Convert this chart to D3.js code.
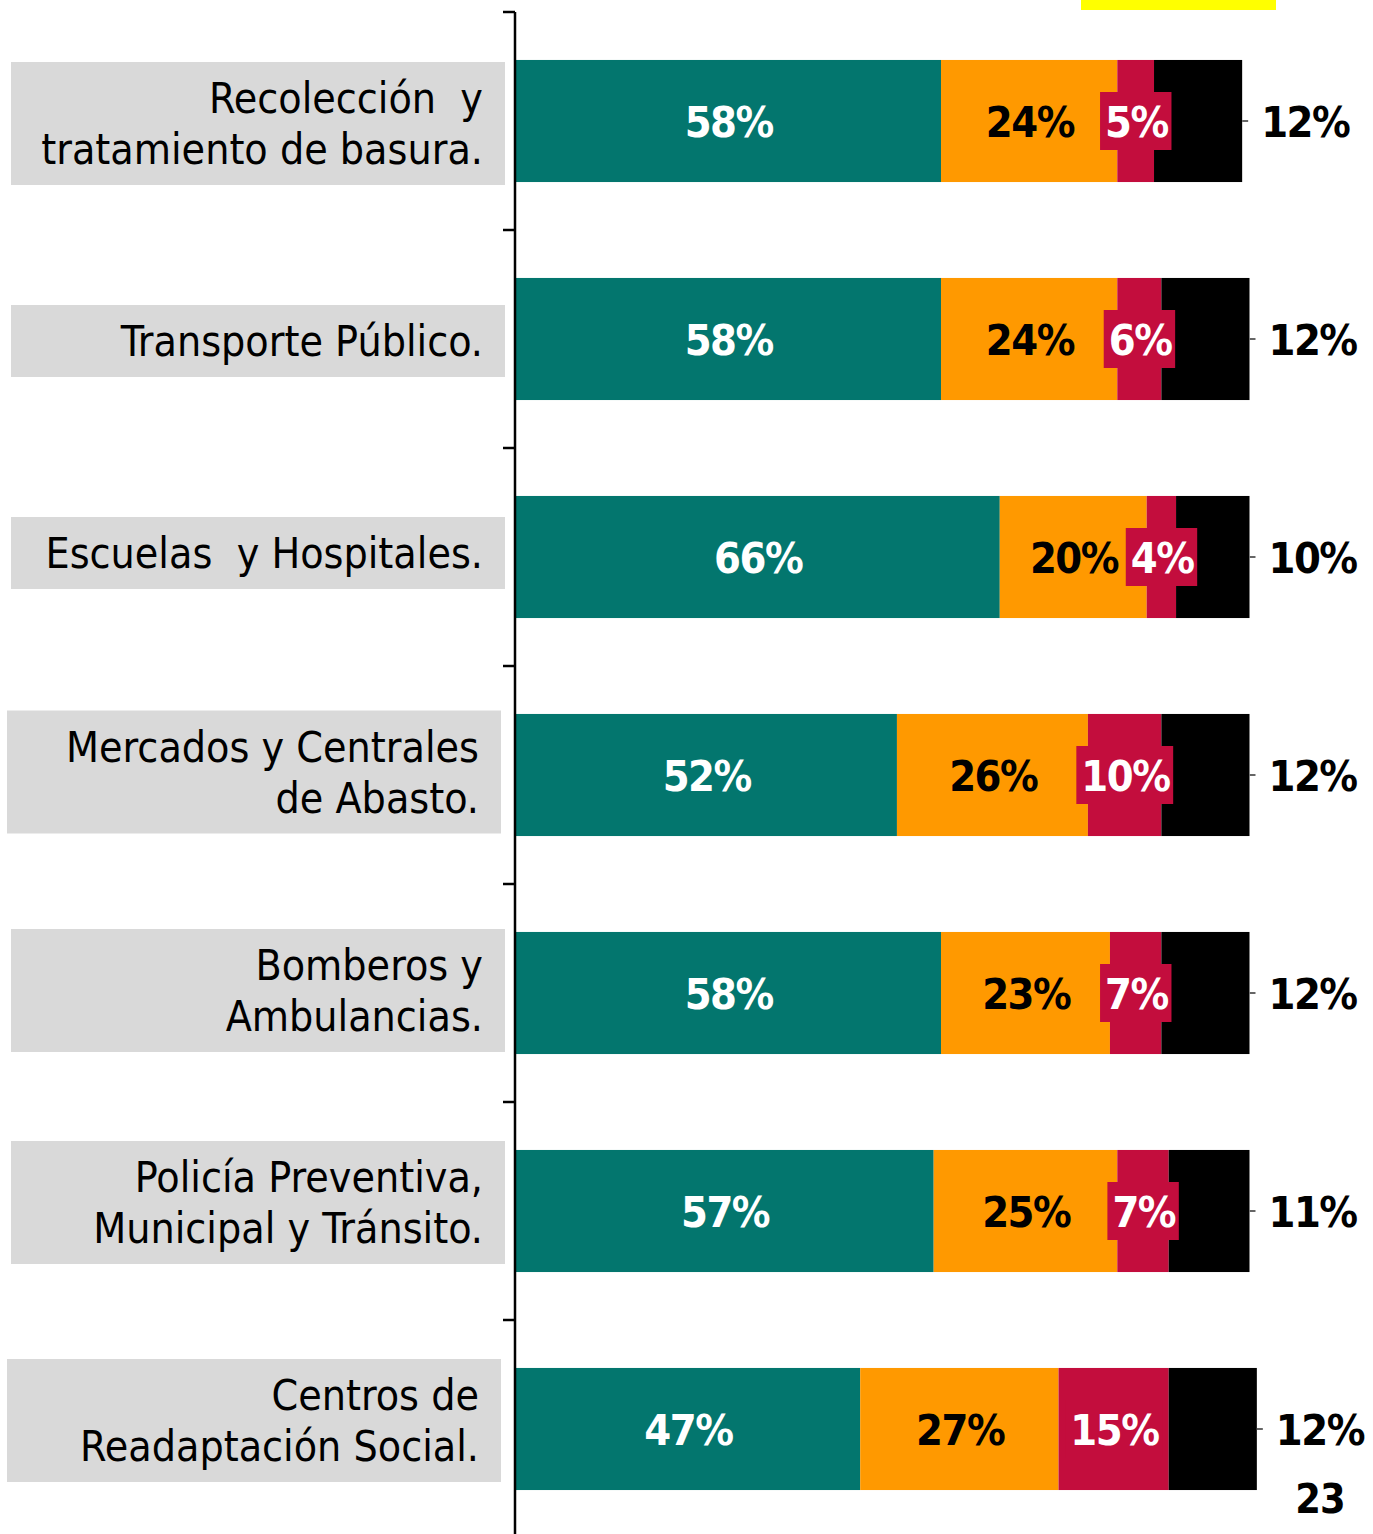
<!DOCTYPE html>
<html><head><meta charset="utf-8">
<script src="https://cdn.jsdelivr.net/npm/d3@7"></script>
<style>
html,body{margin:0;padding:0;background:#fff;}
svg{display:block;}
</style></head>
<body>
<svg id="chart" width="1373" height="1534"></svg>
<script>
const categories = [
  ["Recolección  y", "tratamiento de basura."],
  ["Transporte Público."],
  ["Escuelas  y Hospitales."],
  ["Mercados y Centrales", "de Abasto."],
  ["Bomberos y", "Ambulancias."],
  ["Policía Preventiva,", "Municipal y Tránsito."],
  ["Centros de", "Readaptación Social."]
];
const seriesNames = ["s1", "s2", "s3", "s4"];
const s1 = [58, 58, 66, 52, 58, 57, 47];
const s2 = [24, 24, 20, 26, 23, 25, 27];
const s3 = [5, 6, 4, 10, 7, 7, 15];
const s4 = [12, 12, 10, 12, 12, 11, 12];
const pageNumber = "23";

// layout nudges of the grey label boxes (dx, dy), as in the original slide
const boxNudge = [[0, 2.5], [0, 2], [0, -4], [-4, -3], [0, -2.5], [0, -8.5], [-4, -8.5]];

const colors = ["#03766E", "#FF9900", "#C30D3D", "#000000"];
const labelColors = ["#ffffff", "#000000", "#ffffff", "#000000"];
const fontLabel = "'DejaVu Sans Condensed', 'DejaVu Sans', sans-serif";

const svg = d3.select("#chart");
const keys = categories.map((c, i) => i);
const rows = keys.map(i => ({ i, s1: s1[i], s2: s2[i], s3: s3[i], s4: s4[i] }));

const axisX = 515;
const y = d3.scaleBand().domain(keys).range([12, 12 + 218 * 7]).paddingInner(0.44).paddingOuter(0.22);
const x = d3.scaleLinear().domain([0, 100]).range([axisX, axisX + 734.5]);

const stacked = d3.stack().keys(seriesNames)(rows);

// yellow marker on top
svg.append("rect").attr("x", 1081).attr("y", 0).attr("width", 195).attr("height", 10).attr("fill", "#FFFF00");

// category label boxes
const lab = svg.append("g");
keys.forEach(i => {
  const lines = categories[i];
  const [dx, dy] = boxNudge[i];
  const cy = y(i) + y.bandwidth() / 2 + dy;
  const h = lines.length === 2 ? 123 : 72;
  const g = lab.append("g").attr("transform", `translate(${dx},0)`);
  g.append("rect").attr("x", 11).attr("y", cy - h / 2).attr("width", 494).attr("height", h).attr("fill", "#D9D9D9");
  const lh = 51;
  lines.forEach((t, k) => {
    g.append("text")
      .attr("x", 483)
      .attr("y", cy + 15 + (k - (lines.length - 1) / 2) * lh)
      .attr("text-anchor", "end")
      .attr("font-family", fontLabel)
      .attr("font-size", 42.5)
      .attr("fill", "#000")
      .style("white-space", "pre")
      .text(t);
  });
});

// bars
const gBars = svg.append("g");
stacked.forEach((layer, si) => {
  gBars.selectAll(null).data(layer).enter().append("rect")
    .attr("x", d => x(d[0]))
    .attr("y", (d, j) => y(j))
    .attr("width", d => x(d[1]) - x(d[0]))
    .attr("height", y.bandwidth())
    .attr("fill", colors[si]);
});

// axis
const gAxis = svg.append("g").attr("transform", `translate(${axisX},0)`);
gAxis.append("line").attr("x1", 0).attr("x2", 0).attr("y1", 12).attr("y2", 1534).attr("stroke", "#000").attr("stroke-width", 2.5);
const tickPos = keys.map(i => y(i) - y.step() * y.paddingOuter());
gAxis.selectAll(".tk").data(tickPos).enter().append("line")
  .attr("x1", -12).attr("x2", 0).attr("y1", d => d).attr("y2", d => d)
  .attr("stroke", "#000").attr("stroke-width", 2.5);

// value labels
const LS = -1.5;
const FS = 43;
const gLab = svg.append("g");
stacked.forEach((layer, si) => {
  if (si === 3) return;
  layer.forEach((d, j) => {
    const cx = (x(d[0]) + x(d[1])) / 2;
    const cy = y(j) + y.bandwidth() / 2;
    const t = gLab.append("text")
      .attr("x", cx - LS / 2).attr("y", cy + 16)
      .attr("text-anchor", "middle")
      .attr("font-family", fontLabel)
      .attr("font-weight", "bold")
      .attr("font-size", FS)
      .attr("letter-spacing", LS)
      .attr("fill", labelColors[si])
      .text((d[1] - d[0]) + "%");
    if (si === 2) {
      const bb = t.node().getBBox();
      gLab.insert("rect", () => t.node())
        .attr("x", bb.x - 5).attr("y", cy - 29)
        .attr("width", bb.width + 8).attr("height", 58)
        .attr("fill", colors[2]);
    }
  });
});

// outside labels (last series)
stacked[3].forEach((d, j) => {
  const cy = y(j) + y.bandwidth() / 2;
  const xe = x(d[1]);
  gLab.append("line").attr("x1", xe).attr("x2", xe + 6).attr("y1", cy).attr("y2", cy)
    .attr("stroke", "#666").attr("stroke-width", 2);
  gLab.append("text")
    .attr("x", xe + 19).attr("y", cy + 16)
    .attr("font-family", fontLabel)
    .attr("font-weight", "bold")
    .attr("font-size", FS)
    .attr("letter-spacing", LS)
    .attr("fill", "#000")
    .text((d[1] - d[0]) + "%");
});

// page number
svg.append("text").attr("x", 1320).attr("y", 1513).attr("text-anchor", "middle")
  .attr("font-family", fontLabel).attr("font-weight", "bold").attr("font-size", 41)
  .attr("letter-spacing", -1)
  .attr("fill", "#000").text(pageNumber);
</script>
</body></html>
